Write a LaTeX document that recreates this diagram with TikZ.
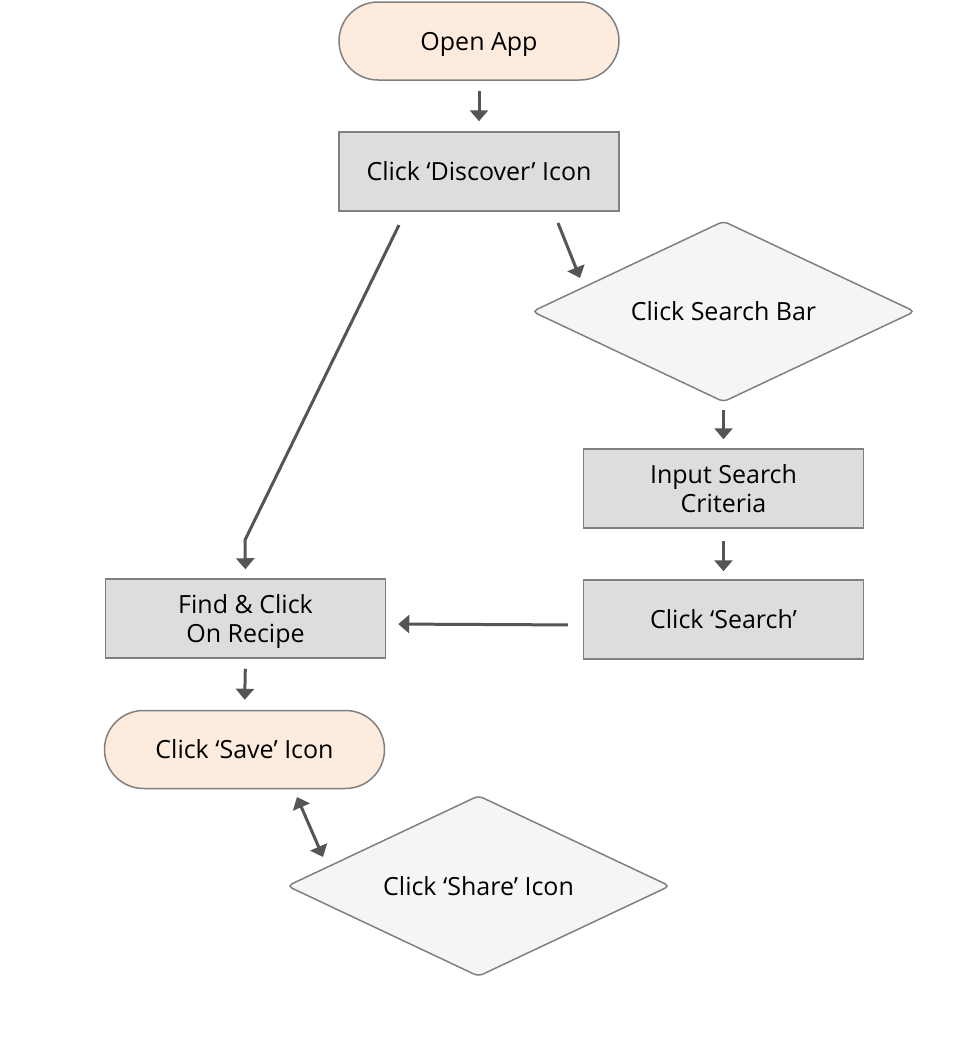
\documentclass[tikz,border=0pt]{standalone}
\usepackage{fontspec}
\setmainfont{Open Sans}
\usetikzlibrary{shapes.geometric,arrows.meta}
\definecolor{termfill}{HTML}{FDEBDD}
\definecolor{procfill}{HTML}{DDDDDD}
\definecolor{decfill}{HTML}{F5F5F5}
\definecolor{bordergray}{HTML}{808080}
\definecolor{arrgray}{HTML}{555555}
\tikzset{
  base/.style={draw=bordergray, line width=1.5pt, align=center, inner sep=0pt,
    font=\fontsize{25}{29}\selectfont, text=black, text height=24pt, text depth=6pt},
  twolines/.style={text height=53pt},
  term/.style={base, fill=termfill, rectangle, rounded corners=39pt,
    minimum width=280pt, minimum height=78pt},
  proc/.style={base, fill=procfill, rectangle, minimum width=280pt, minimum height=79pt},
  dec/.style={base, fill=decfill, diamond, rounded corners=5pt,
    inner xsep=-80pt, inner ysep=-20pt,
    minimum width=383pt, minimum height=181pt},
  arr/.style={draw=arrgray, line width=3pt, -{Triangle[width=18pt,length=11pt]}},
  darr/.style={draw=arrgray, line width=3pt, {Triangle[width=18pt,length=11pt]}-{Triangle[width=18pt,length=11pt]}}
}
\begin{document}
\begin{tikzpicture}[x=1pt,y=-1pt]
\useasboundingbox (0,0) rectangle (960,1060);
\node[term] (open) at (479,41) {Open App};
\node[proc] (disc) at (479,171.5) {Click ‘Discover’ Icon};
\node[dec] (sbar) at (723.5,311.5) {Click Search Bar};
\node[proc, twolines] (input) at (723.5,488.5) {Input Search\\Criteria};
\node[proc] (search) at (723.5,619.5) {Click ‘Search’};
\node[proc, twolines] (find) at (245.5,618.5) {Find \& Click\\On Recipe};
\node[term] (save) at (244.5,749.5) {Click ‘Save’ Icon};
\node[dec] (share) at (478.5,886) {Click ‘Share’ Icon};

\draw[arr, shorten <=10pt, shorten >=10pt] (open.south) -- (disc.north);
\coordinate (l1) at (399,225);
\coordinate (l2) at (245,540);
\draw[arr, shorten >=9pt] (l1) -- (l2) -- (find.north);
\coordinate (r1) at (558,223);
\coordinate (r2) at (580,278);
\draw[arr] (r1) -- (r2);
\draw[arr, shorten <=7pt, shorten >=9pt] (sbar.south) -- (input.north);
\draw[arr, shorten <=12pt, shorten >=8pt] (input.south) -- (search.north);
\draw[arr, shorten <=15pt, shorten >=12pt] ([yshift=-5.5pt]search.west) -- ([yshift=-5.5pt]find.east);
\draw[arr, shorten <=10pt, shorten >=10pt] (find.south) -- (save.north);
\coordinate (s1) at (297,797);
\coordinate (s2) at (323,857);
\draw[darr] (s1) -- (s2);
\end{tikzpicture}
\end{document}
